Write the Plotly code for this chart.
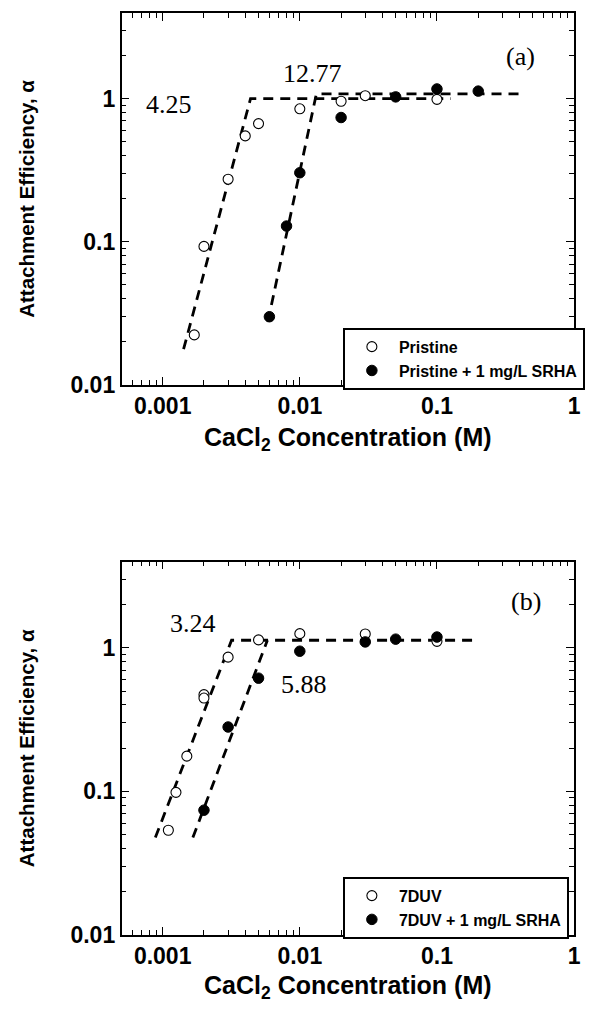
import plotly.graph_objects as go

# ---------------- data ----------------
# Panel (a)
a_pristine_x = [0.0017, 0.002, 0.003, 0.004, 0.005, 0.01, 0.02, 0.03, 0.1]
a_pristine_y = [0.0224, 0.093, 0.274, 0.55, 0.67, 0.85, 0.96, 1.05, 0.99]
a_srha_x = [0.006, 0.008, 0.01, 0.02, 0.05, 0.1, 0.2]
a_srha_y = [0.030, 0.129, 0.304, 0.739, 1.03, 1.17, 1.13]
a_fit1_x = [0.00142, 0.00437, 0.126]
a_fit1_y = [0.0178, 1.0, 1.0]
a_fit2_x = [0.00585, 0.0132, 0.44]
a_fit2_y = [0.0277, 1.08, 1.08]

# Panel (b)
b_7duv_x = [0.0011, 0.00125, 0.0015, 0.002, 0.002, 0.003, 0.005, 0.01, 0.03, 0.1]
b_7duv_y = [0.0536, 0.0985, 0.176, 0.472, 0.447, 0.862, 1.136, 1.256, 1.25, 1.11]
b_srha_x = [0.002, 0.003, 0.005, 0.01, 0.03, 0.05, 0.1]
b_srha_y = [0.074, 0.281, 0.615, 0.948, 1.10, 1.15, 1.19]
b_fit1_x = [0.000884, 0.00318, 0.2]
b_fit1_y = [0.0477, 1.13, 1.13]
b_fit2_x = [0.00166, 0.0058]
b_fit2_y = [0.0477, 1.13]

tick_vals = [0.001, 0.01, 0.1, 1]
tick_text = ["0.001", "0.01", "0.1", "1"]
ytick_vals = [0.01, 0.1, 1]
ytick_text = ["0.01", "0.1", "1"]
minor_mult = [2, 3, 4, 5, 6, 7, 8, 9]
x_minor_decades = [0.0001, 0.001, 0.01, 0.1]
y_minor_decades = [0.01, 0.1, 1]

x_minor = [d * m for d in x_minor_decades for m in minor_mult]
y_minor = [d * m for d in y_minor_decades for m in minor_mult]

x_title = "CaCl<sub>2</sub> Concentration (M)"
y_title = "Attachment Efficiency, α"

W, H = 589, 1020
SANS = "Liberation Sans"
SERIF = "Liberation Serif"

fig = go.Figure()

line_style = dict(color="black", width=2.8, dash="10px,7px")

def add_panel(xa, ya, fit_lists, open_x, open_y, fill_x, fill_y, names, legend):
    for fx, fy in fit_lists:
        fig.add_trace(go.Scatter(x=fx, y=fy, mode="lines", line=line_style,
                                 showlegend=False, xaxis=xa, yaxis=ya, hoverinfo="skip"))
    fig.add_trace(go.Scatter(x=open_x, y=open_y, mode="markers", name=names[0],
                             marker=dict(symbol="circle", size=10, color="white",
                                         line=dict(color="black", width=1.1)),
                             xaxis=xa, yaxis=ya, legend=legend))
    fig.add_trace(go.Scatter(x=fill_x, y=fill_y, mode="markers", name=names[1],
                             marker=dict(symbol="circle", size=10.5, color="black",
                                         line=dict(color="black", width=1)),
                             xaxis=xa, yaxis=ya, legend=legend))

add_panel("x", "y", [(a_fit1_x, a_fit1_y), (a_fit2_x, a_fit2_y)],
          a_pristine_x, a_pristine_y, a_srha_x, a_srha_y,
          ["Pristine", "Pristine + 1 mg/L SRHA"], "legend")
add_panel("x2", "y2", [(b_fit1_x, b_fit1_y), (b_fit2_x, b_fit2_y)],
          b_7duv_x, b_7duv_y, b_srha_x, b_srha_y,
          ["7DUV", "7DUV + 1 mg/L SRHA"], "legend2")

xdom = [123 / W, 581 / W]
top_dom = [(H - 390) / H, (H - 13) / H]
bot_dom = [(H - 947) / H, (H - 569) / H]

tickfont = dict(family=SANS, size=23, color="black", weight="bold")

def axis_common(rng, vals, text, minor_vals, dom, anchor, title, tsize, standoff):
    return dict(type="log", range=rng, domain=dom, anchor=anchor,
                tickmode="array", tickvals=vals, ticktext=text, ticks="inside", ticklen=8,
                tickwidth=1.2, tickcolor="black", showline=True, linecolor="black",
                linewidth=1.5, mirror="ticks", showgrid=False, zeroline=False,
                tickfont=tickfont,
                title=dict(text=title, standoff=standoff,
                           font=dict(family=SANS, size=tsize, color="black", weight="bold")),
                minor=dict(tickmode="array", tickvals=minor_vals, ticks="inside",
                           ticklen=5, tickcolor="black", tickwidth=1, showgrid=False))

legend_common = dict(xanchor="left", yanchor="top", bordercolor="black", borderwidth=2,
                     bgcolor="white", font=dict(family=SANS, size=16, color="black", weight="bold"),
                     itemwidth=44, tracegroupgap=0)

fig.update_layout(
    width=W, height=H, margin=dict(l=0, r=0, t=0, b=0),
    paper_bgcolor="white", plot_bgcolor="white",
    xaxis=axis_common([-3.3, 0], tick_vals, tick_text, x_minor, xdom, "y", x_title, 25, 10),
    yaxis=axis_common([-2, 0.6], ytick_vals, ytick_text, y_minor, top_dom, "x", y_title, 20.5, 30),
    xaxis2=axis_common([-3.3, 0], tick_vals, tick_text, x_minor, xdom, "y2", x_title, 25, 8),
    yaxis2=axis_common([-2, 0.6], ytick_vals, ytick_text, y_minor, bot_dom, "x2", y_title, 20.5, 30),
    legend=dict(x=347 / W, y=(H - 332) / H, **legend_common),
    legend2=dict(x=347 / W, y=(H - 888) / H, **legend_common),
    showlegend=True,
)

def px_ann(text, x, y, size=26, family=SERIF):
    fig.add_annotation(text=text, x=x / W, y=(H - y) / H, xref="paper", yref="paper",
                       showarrow=False, xanchor="center", yanchor="middle",
                       font=dict(family=family, size=size, color="black"))

# value labels
px_ann("4.25", 171.5, 106)
px_ann("12.77", 316, 74)
px_ann("(a)", 527, 57)
px_ann("3.24", 195, 632)
px_ann("5.88", 308, 693)
px_ann("(b)", 532, 609)

fig.write_html("out.html")
